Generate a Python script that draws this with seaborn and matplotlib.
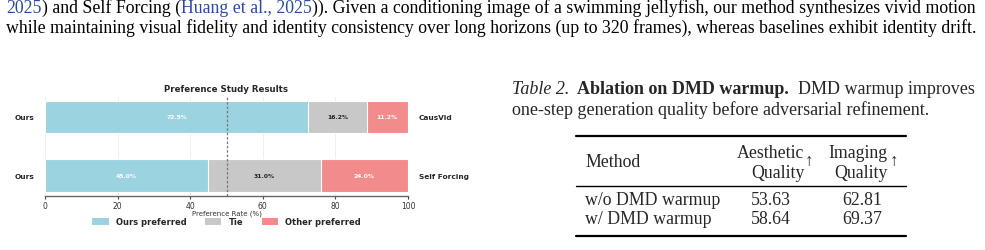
import matplotlib
matplotlib.use("Agg")
import matplotlib.pyplot as plt
import seaborn as sns
import pandas as pd
from matplotlib.patches import Patch

# ---------------- data ----------------
opponents = ["CausVid", "Self Forcing"]
ours_pref = [72.5, 45.0]
tie = [16.2, 31.0]
other_pref = [11.2, 24.0]
legend_labels = ["Ours preferred", "Tie", "Other preferred"]
xticks = [0, 20, 40, 60, 80, 100]

table_methods = ["w/o DMD warmup", "w/ DMD warmup"]
aesthetic = ["53.63", "58.64"]
imaging = ["62.81", "69.37"]

body_line1 = [("2025", "blue"), (") and Self Forcing (", "k"), ("Huang et al., 2025", "blue"),
              (")). Given a conditioning image of a swimming jellyfish, our method synthesizes vivid motion", "k")]
body_line2 = "while maintaining visual fidelity and identity consistency over long horizons (up to 320 frames), whereas baselines exhibit identity drift."

# ---------------- colours ----------------
C_BLUE = "#9bd3e0"
C_GRAY = "#c8c8c8"
C_RED = "#f28b8b"
C_LINK = "#2b4a9e"

W, H = 985, 251
sns.set_theme(style="white")
plt.rcParams["font.family"] = ["DejaVu Sans"]
fig = plt.figure(figsize=(W / 100, H / 100), dpi=100)
renderer = fig.canvas.get_renderer()

SERIF = ["Liberation Serif", "DejaVu Serif"]


def px(x, y):
    return x / W, 1 - y / H


def text_w(t):
    return t.get_window_extent(renderer=renderer).width


def fit_text(x, y, s, target_w, **kw):
    t = fig.text(*px(x, y), s, fontsize=10, va="center", ha="left", **kw)
    w = text_w(t)
    t.set_fontsize(10 * target_w / w)
    return t


# ---------------- body text ----------------
t2 = fit_text(6, 28, body_line2, 972, family=SERIF, color="black")
fs_body = t2.get_fontsize()
xcur = 6
for s, c in body_line1:
    t = fig.text(*px(xcur, 8.5), s, fontsize=fs_body, family=SERIF, va="center", ha="left",
                 color=C_LINK if c == "blue" else "black")
    xcur += text_w(t)

# ---------------- table caption ----------------
cap_parts = [("Table 2.", dict(style="italic")), ("  Ablation on DMD warmup.", dict(weight="bold")),
             ("  DMD warmup improves", dict())]
fs_cap = fs_body * 1.01
xcur = 512
for s, kw in cap_parts:
    t = fig.text(*px(xcur, 90), s, fontsize=fs_cap, family=SERIF, va="center", ha="left", **kw)
    xcur += text_w(t)
fig.text(*px(512, 110), "one-step generation quality before adversarial refinement.",
         fontsize=fs_cap, family=SERIF, va="center", ha="left")

# ---------------- table ----------------
fs_tab = fs_body
for yy, lw in [(137, 1.6), (187, 1.0), (237, 1.6)]:
    fig.add_artist(plt.Line2D([576 / W, 906 / W], [1 - yy / H, 1 - yy / H], color="black", lw=lw))
fig.text(*px(585, 163), "Method", fontsize=fs_tab, family=SERIF, va="center", ha="left")
fig.text(*px(770, 153), "Aesthetic", fontsize=fs_tab, family=SERIF, va="center", ha="center")
fig.text(*px(778, 173), "Quality", fontsize=fs_tab, family=SERIF, va="center", ha="center")
fig.text(*px(809, 162), "\u2191", fontsize=fs_tab * 0.95, family=SERIF, va="center", ha="center")
fig.text(*px(858, 153), "Imaging", fontsize=fs_tab, family=SERIF, va="center", ha="center")
fig.text(*px(861, 173), "Quality", fontsize=fs_tab, family=SERIF, va="center", ha="center")
fig.text(*px(894, 162), "\u2191", fontsize=fs_tab * 0.95, family=SERIF, va="center", ha="center")
for i, yy in enumerate([201, 220]):
    fig.text(*px(585, yy), table_methods[i], fontsize=fs_tab, family=SERIF, va="center", ha="left")
    fig.text(*px(771, yy), aesthetic[i], fontsize=fs_tab, family=SERIF, va="center", ha="center")
    fig.text(*px(862, yy), imaging[i], fontsize=fs_tab, family=SERIF, va="center", ha="center")

# ---------------- chart ----------------
df = pd.DataFrame({"opponent": opponents, "ours": ours_pref, "tie": tie, "other": other_pref})
df["cum_tie"] = df["ours"] + df["tie"]
df["cum_all"] = df["cum_tie"] + df["other"]

ax_h = 197 - 97.5
ax = fig.add_axes([45 / W, 1 - 197 / H, (408 - 45) / W, ax_h / H])
for col, colr in [("cum_all", C_RED), ("cum_tie", C_GRAY), ("ours", C_BLUE)]:
    sns.barplot(data=df, x=col, y="opponent", orient="h", color=colr, width=0.55,
                edgecolor="white", linewidth=0.8, errorbar=None, ax=ax, saturation=1)

ax.set_xlim(0, 100)
ax.set_ylim(1.35, -0.35)
ax.set_axisbelow(True)
ax.grid(axis="x", color="#ececec", lw=0.6)
ax.grid(axis="y", visible=False)
ax.axvline(50, color="#777777", lw=0.9, ls=(0, (2, 1.5)), zorder=5)
for s in ["top", "right", "left"]:
    ax.spines[s].set_visible(False)
ax.spines["bottom"].set_color("#666666")
ax.spines["bottom"].set_linewidth(1.0)
ax.set_yticks([])
ax.set_ylabel("")
ax.set_xticks(xticks)
ax.tick_params(axis="x", labelsize=5.5, colors="#444444", length=2.5, width=0.8, pad=1.0,
               bottom=True, labelcolor="#333333")
ax.set_xlabel("Preference Rate (%)", fontsize=5.0, color="#333333", va="center")
ax.xaxis.set_label_coords(0.5, -(213.5 - 197) / ax_h)
ax.set_title("Preference Study Results", fontsize=6.2, fontweight="bold", pad=4)

for i, row in df.iterrows():
    ax.text(row["ours"] / 2, i, f"{row['ours']:.1f}%", ha="center", va="center",
            fontsize=4.3, fontweight="bold", color="white", zorder=6)
    ax.text(row["ours"] + row["tie"] / 2, i, f"{row['tie']:.1f}%", ha="center", va="center",
            fontsize=4.3, fontweight="bold", color="#222222", zorder=6)
    ax.text(row["cum_tie"] + row["other"] / 2, i, f"{row['other']:.1f}%", ha="center", va="center",
            fontsize=4.3, fontweight="bold", color="white", zorder=6)
    ax.text(-3, i, "Ours", ha="right", va="center", fontsize=5.3, fontweight="bold",
            transform=ax.transData, clip_on=False)
    ax.text(103, i, row["opponent"], ha="left", va="center", fontsize=5.3, fontweight="bold",
            transform=ax.transData, clip_on=False)

handles = [Patch(facecolor=c, edgecolor="none") for c in [C_BLUE, C_GRAY, C_RED]]
ax.legend(handles, legend_labels, loc="center", bbox_to_anchor=(0.5, -(223 - 197) / ax_h), ncol=3,
          frameon=False, prop=dict(size=6.0, weight="bold"), handlelength=2.0, handleheight=1.0,
          columnspacing=2.2, handletextpad=0.85, borderaxespad=0, borderpad=0)

fig.savefig("out.png", dpi=100)
